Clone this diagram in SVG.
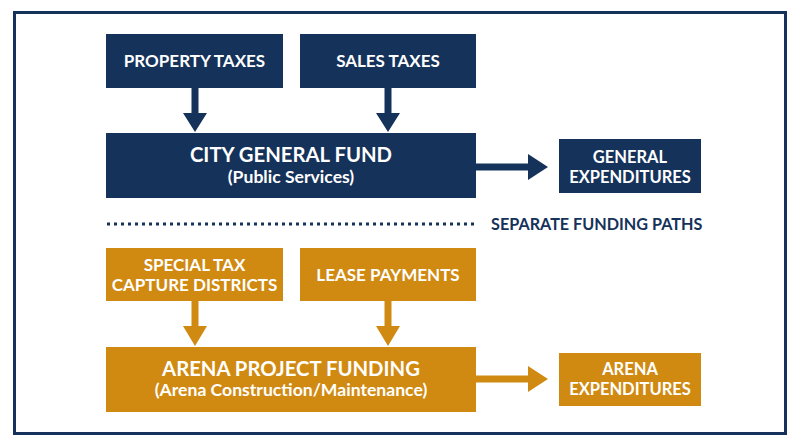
<svg xmlns="http://www.w3.org/2000/svg" width="800" height="447" viewBox="0 0 800 447">
<style>
.navy{fill:#15325a}
.gold{fill:#d08a12}
.t{font-family:Lato,"Open Sans","Liberation Sans",sans-serif;font-weight:bold;fill:#ffffff;text-anchor:middle}
.s{font-size:17px}
.e{font-size:16.5px}
.l{font-size:20.3px}
.m{font-size:17.6px}
.lab{font-family:Lato,"Open Sans","Liberation Sans",sans-serif;font-weight:bold;font-size:16.2px;fill:#15325a}
</style>
<rect x="0" y="0" width="800" height="447" fill="#ffffff"/>
<rect x="14.5" y="12.5" width="771" height="421" fill="none" stroke="#15325a" stroke-width="3"/>
<g id="connectors">
  <polygon class="navy" points="191.5,88 198.5,88 198.5,113 207,113 195,132 183,113 191.5,113"/>
  <polygon class="navy" points="384.5,88 391.5,88 391.5,113 400,113 388,132 376,113 384.5,113"/>
  <polygon class="navy" points="476,163.5 528,163.5 528,154 548,167 528,180 528,170.5 476,170.5"/>
  <polygon class="gold" points="191.5,301 198.5,301 198.5,326 207,326 195,346 183,326 191.5,326"/>
  <polygon class="gold" points="384.5,301 391.5,301 391.5,326 400,326 388,346 376,326 384.5,326"/>
  <polygon class="gold" points="476,375.5 528,375.5 528,366 548,379 528,392 528,382.5 476,382.5"/>
  <line x1="107" y1="224" x2="477" y2="224" stroke="#15325a" stroke-width="3" stroke-dasharray="3,4"/>
</g>
<g id="property-taxes">
  <rect class="navy" x="106" y="34" width="177" height="54"/>
  <text class="t s" x="194.5" y="67.3">PROPERTY TAXES</text>
</g>
<g id="sales-taxes">
  <rect class="navy" x="300" y="34" width="176" height="54"/>
  <text class="t s" x="388" y="67.3">SALES TAXES</text>
</g>
<g id="city-general-fund">
  <rect class="navy" x="106" y="133" width="370" height="65"/>
  <text class="t l" x="291" y="162">CITY GENERAL FUND</text>
  <text class="t m" x="291" y="183">(Public Services)</text>
</g>
<g id="general-expenditures">
  <rect class="navy" x="559" y="139" width="142" height="54"/>
  <text class="t e" x="630" y="163">GENERAL</text>
  <text class="t e" x="630" y="183">EXPENDITURES</text>
</g>
<g id="separate-label">
  <text class="lab" x="491" y="230">SEPARATE FUNDING PATHS</text>
</g>
<g id="special-tax">
  <rect class="gold" x="106" y="248" width="177" height="53"/>
  <text class="t s" x="194.5" y="271">SPECIAL TAX</text>
  <text class="t s" x="194.5" y="291">CAPTURE DISTRICTS</text>
</g>
<g id="lease-payments">
  <rect class="gold" x="300" y="248" width="176" height="53"/>
  <text class="t s" x="388" y="281">LEASE PAYMENTS</text>
</g>
<g id="arena-project-funding">
  <rect class="gold" x="106" y="347" width="370" height="65"/>
  <text class="t l" x="291" y="375.5">ARENA PROJECT FUNDING</text>
  <text class="t m" x="291" y="395.5">(Arena Construction/Maintenance)</text>
</g>
<g id="arena-expenditures">
  <rect class="gold" x="559" y="353" width="142" height="53"/>
  <text class="t e" x="630" y="375">ARENA</text>
  <text class="t e" x="630" y="395">EXPENDITURES</text>
</g>
</svg>
